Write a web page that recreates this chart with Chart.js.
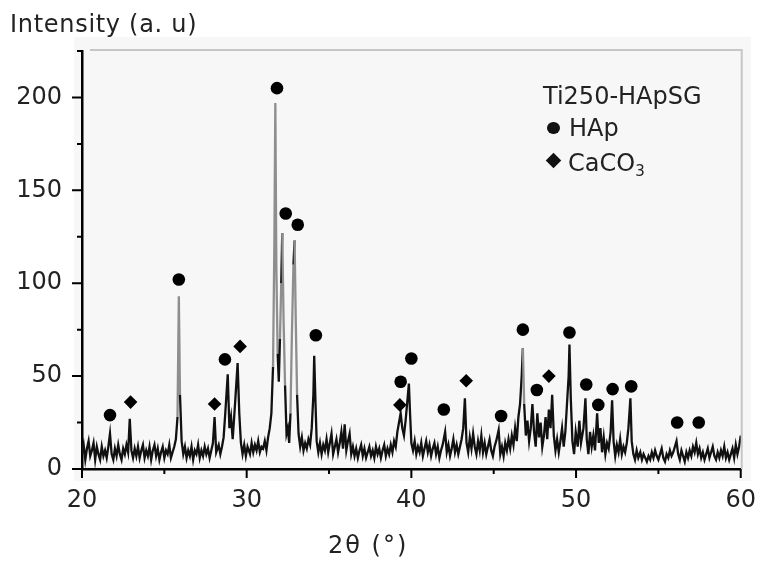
<!DOCTYPE html>
<html>
<head>
<meta charset="utf-8">
<script src="https://cdn.jsdelivr.net/npm/chart.js@4.4.1/dist/chart.umd.min.js"></script>
<style>
html,body{margin:0;padding:0;background:#fff;}
#wrap{position:relative;width:763px;height:561px;font-family:"DejaVu Sans",Verdana,sans-serif;color:#222;overflow:hidden;}
#c{position:absolute;left:0;top:0;}
.t{position:absolute;white-space:nowrap;font-size:24px;line-height:24px;}
.t sub{font-size:15px;line-height:0;vertical-align:baseline;position:relative;top:5px;}
.circ{position:absolute;width:13px;height:12.5px;border-radius:50%;background:#111;}
.dia{position:absolute;width:11px;height:11px;background:#111;transform:rotate(45deg);}
</style>
</head>
<body>
<div id="wrap">
<canvas id="c" width="763" height="561"></canvas>
<div class="t" style="left:10px;top:12px;letter-spacing:0.7px;">Intensity (a. u)</div>
<div class="t" style="left:328px;top:533px;letter-spacing:2px;">2θ (°)</div>
<div class="t" style="left:543px;top:84px;">Ti250-HApSG</div>
<div class="circ" style="left:546.5px;top:121.5px;"></div>
<div class="t" style="left:569px;top:115.5px;">HAp</div>
<div class="dia" style="left:547.5px;top:155px;"></div>
<div class="t" style="left:568px;top:150.5px;">CaCO<sub>3</sub></div>
</div>
<script>
// ---- data ----
const twoTheta = [
  20.0,20.1,20.2,20.3,20.4,20.5,20.6,20.7,20.8,20.9,
  21.0,21.1,21.2,21.3,21.4,21.5,21.6,21.7,21.8,21.9,
  22.0,22.1,22.2,22.3,22.4,22.5,22.6,22.7,22.8,22.9,
  23.0,23.1,23.2,23.3,23.4,23.5,23.6,23.7,23.8,23.9,
  24.0,24.1,24.2,24.3,24.4,24.5,24.6,24.7,24.8,24.9,
  25.0,25.1,25.2,25.3,25.4,25.5,25.6,25.7,25.8,25.88,25.95,
  26.05,26.15,26.25,26.35,26.45,26.55,26.65,26.75,26.85,26.95,
  27.05,27.15,27.25,27.35,27.45,27.55,27.65,27.75,27.85,27.95,
  28.05,28.15,28.3,28.4,28.5,28.6,28.7,28.85,28.95,
  29.05,29.15,29.3,29.45,29.55,29.65,29.75,29.85,29.95,
  30.05,30.2,30.3,30.4,30.5,30.6,30.7,30.8,30.9,
  31.0,31.1,31.2,31.3,31.4,31.5,31.6,31.68,31.74,31.8,31.88,31.95,
  32.02,32.1,32.16,32.24,32.33,32.42,32.5,32.58,32.66,32.74,32.84,32.91,32.98,
  33.06,33.15,33.25,33.35,33.45,33.55,33.65,33.75,33.85,33.95,
  34.05,34.1,34.18,34.25,34.35,34.45,34.55,34.65,34.75,34.85,34.95,
  35.05,35.15,35.25,35.35,35.45,35.55,35.65,35.75,35.85,35.95,
  36.05,36.15,36.25,36.35,36.45,36.55,36.65,36.75,36.85,36.95,
  37.05,37.15,37.25,37.35,37.45,37.55,37.65,37.75,37.85,37.95,
  38.05,38.15,38.25,38.35,38.45,38.55,38.65,38.75,38.85,38.95,
  39.05,39.15,39.25,39.35,39.45,39.55,39.65,39.75,39.85,39.92,
  40.0,40.1,40.2,40.3,40.4,40.5,40.6,40.7,40.8,40.9,
  41.0,41.1,41.2,41.3,41.4,41.5,41.6,41.7,41.8,41.9,
  42.05,42.15,42.25,42.35,42.45,42.55,42.65,42.75,42.85,42.95,
  43.05,43.15,43.25,43.35,43.45,43.55,43.65,43.75,43.85,43.95,
  44.05,44.15,44.25,44.35,44.45,44.55,44.65,44.75,44.85,44.95,
  45.05,45.15,45.3,45.4,45.5,45.6,45.7,45.8,45.9,
  46.0,46.1,46.2,46.3,46.4,46.5,46.6,46.7,46.77,46.85,46.95,
  47.05,47.15,47.25,47.35,47.45,47.55,47.65,47.75,47.85,47.95,
  48.05,48.15,48.25,48.35,48.45,48.55,48.65,48.75,48.85,48.95,
  49.05,49.15,49.25,49.35,49.45,49.55,49.6,49.68,49.78,49.88,49.98,
  50.1,50.2,50.3,50.45,50.57,50.65,50.75,50.85,50.95,
  51.05,51.15,51.28,51.38,51.48,51.58,51.68,51.78,51.88,51.98,
  52.1,52.19,52.28,52.38,52.48,52.58,52.68,52.78,52.88,52.98,
  53.08,53.18,53.3,53.38,53.48,53.58,53.68,53.78,53.9,
  54.0,54.1,54.2,54.3,54.4,54.5,54.6,54.7,54.8,54.9,
  55.0,55.1,55.2,55.3,55.4,55.5,55.6,55.7,55.8,55.9,
  56.0,56.1,56.2,56.3,56.4,56.5,56.6,56.7,56.8,56.9,
  57.0,57.1,57.2,57.3,57.4,57.5,57.6,57.7,57.8,57.9,
  58.0,58.1,58.2,58.3,58.4,58.5,58.6,58.7,58.8,58.9,
  59.0,59.1,59.2,59.3,59.4,59.5,59.6,59.7,59.8,59.9,
  60.0
];
const intensity = [
  8,13,5,11,15,7,10,14,5,12,
  8,5,12,7,10,6,12,19,8,5,
  11,7,13,8,5,11,8,13,9,27,
  10,6,11,7,12,6,10,13,6,10,
  7,12,5,10,13,7,11,5,9,12,
  6,10,8,13,6,9,12,16,28,93,40,
  15,8,12,6,10,7,12,5,10,8,
  13,6,10,7,12,8,11,6,10,14,
  28,9,13,8,12,17,30,51,22,
  28,16,36,57,30,14,8,13,7,
  12,8,14,9,13,10,15,9,12,
  11,15,10,17,22,30,55,120,197,110,62,47,
  70,100,127,80,45,19,22,14,30,70,110,123,80,
  40,19,12,17,10,14,11,16,13,22,
  40,61,35,15,9,14,8,13,10,16,9,
  14,19,8,12,16,9,14,20,11,24,
  10,15,19,8,12,7,11,6,10,13,
  7,11,6,9,12,7,10,6,12,8,
  11,6,10,13,7,11,8,13,9,15,
  12,20,25,30,22,18,26,36,46,30,
  14,10,15,8,12,9,14,7,11,15,
  9,13,7,11,14,8,12,6,10,13,
  20,9,13,7,11,16,9,13,8,12,
  16,22,38,14,9,17,11,19,12,8,
  15,10,18,9,14,8,12,16,10,7,
  12,15,21,8,12,7,14,10,16,
  11,18,13,22,15,28,35,50,65,35,18,
  26,15,22,35,20,12,30,17,25,12,
  18,28,16,32,22,40,18,10,16,9,
  15,22,12,20,35,50,67,38,15,8,20,
  12,26,14,22,38,16,8,20,12,
  18,10,30,14,22,9,17,8,14,11,
  20,37,15,7,13,9,16,8,12,9,
  14,22,38,15,8,5,10,6,9,
  5,8,6,4,7,5,9,6,10,7,
  5,8,11,6,4,8,6,10,7,9,
  12,15,8,5,10,7,4,9,6,10,
  7,12,9,14,8,11,6,9,5,8,
  11,6,9,12,7,5,9,6,10,7,
  12,6,9,5,8,11,6,13,8,12,
  18
];
// peak labels: HAp (circles) and CaCO3 (diamonds)
const hapAngle  = [21.7,25.88,28.68,31.84,32.37,33.1,34.2,39.35,40.0,41.97,45.45,46.77,47.62,49.6,50.62,51.35,52.22,53.35,56.14,57.45];
const hapHeight = [29,102,59,205,137.5,131.5,72,47,59.5,32,28.5,75,42.5,73.5,45.5,34.5,43,44.5,25,25];
const caco3Angle  = [22.95,28.05,29.6,39.3,43.33,48.35];
const caco3Height = [36,35,66,34.5,47.5,50];
// axes
const xMajorTicks = [20,30,40,50,60];
const xMinorTicks = [25,35,45,55];
const yMajorTicks = [0,50,100,150,200];
const yMinorTicks = [25,75,125,175,225];

const pattern = twoTheta.map((t,i)=>({x:t,y:intensity[i]}));
const hapPts = hapAngle.map((t,i)=>({x:t,y:hapHeight[i]}));
const cacoPts = caco3Angle.map((t,i)=>({x:t,y:caco3Height[i]}));

const FONT = "'DejaVu Sans', Verdana, sans-serif";

const framePlugin = {
  id:'frame',
  beforeDraw(chart){
    const {ctx, chartArea:a} = chart;
    ctx.save();
    ctx.fillStyle = '#f7f7f7';
    ctx.fillRect(a.left-8, a.top-14, a.right-a.left+18, a.bottom-a.top+26);
    ctx.strokeStyle = '#c6c6c6';
    ctx.lineWidth = 2;
    ctx.beginPath();
    ctx.moveTo(a.left+8, a.top-1);
    ctx.lineTo(a.right+1, a.top-1);
    ctx.lineTo(a.right+1, a.bottom);
    ctx.stroke();
    ctx.restore();
  },
  afterDraw(chart){
    const {ctx, chartArea:a, scales} = chart;
    const xs = scales.x, ys = scales.y;
    ctx.save();
    ctx.strokeStyle = '#000';
    ctx.lineWidth = 2;
    ctx.beginPath();
    yMajorTicks.forEach(v=>{const p=ys.getPixelForValue(v); ctx.moveTo(a.left-10,p); ctx.lineTo(a.left,p);});
    yMinorTicks.forEach(v=>{const p=ys.getPixelForValue(v); ctx.moveTo(a.left-5,p); ctx.lineTo(a.left,p);});
    xMajorTicks.forEach(v=>{const p=xs.getPixelForValue(v); ctx.moveTo(p,a.bottom); ctx.lineTo(p,a.bottom+9);});
    xMinorTicks.forEach(v=>{const p=xs.getPixelForValue(v); ctx.moveTo(p,a.bottom); ctx.lineTo(p,a.bottom+5);});
    ctx.stroke();
    ctx.restore();
  }
};

new Chart(document.getElementById('c'), {
  type:'scatter',
  data:{
    datasets:[
      {
        label:'Ti250-HApSG',
        data:pattern,
        showLine:true,
        borderColor:'#111',
        borderWidth:2.3,
        pointRadius:0,
        tension:0,
        order:2,
        segment:{
          borderColor: c => Math.abs(c.p1.y - c.p0.y) > 55 ? '#8e8e8e' : '#111'
        }
      },
      {
        label:'HAp',
        data:hapPts,
        pointStyle:'circle',
        pointRadius:6.3,
        backgroundColor:'#000',
        borderColor:'#000',
        borderWidth:0,
        showLine:false,
        order:1
      },
      {
        label:'CaCO3',
        data:cacoPts,
        pointStyle:'rectRot',
        pointRadius:6.8,
        backgroundColor:'#000',
        borderColor:'#000',
        borderWidth:0,
        showLine:false,
        order:1
      }
    ]
  },
  options:{
    responsive:false,
    animation:false,
    events:[],
    layout:{padding:{top:51,right:21,left:0,bottom:0}},
    plugins:{legend:{display:false},tooltip:{enabled:false},title:{display:false}},
    scales:{
      x:{
        type:'linear', min:20, max:60,
        afterFit: s => { s.height = 92; },
        afterBuildTicks: s => { s.ticks = xMajorTicks.map(v=>({value:v})); },
        ticks:{font:{family:FONT,size:24}, color:'#222', padding:7, maxRotation:0, autoSkip:false},
        grid:{display:true, drawOnChartArea:false, drawTicks:true, tickLength:10, color:'rgba(0,0,0,0)'},
        border:{display:true, color:'#000', width:2.5}
      },
      y:{
        type:'linear', min:0, max:225,
        afterFit: s => { s.width = 82; },
        afterBuildTicks: s => { s.ticks = yMajorTicks.map(v=>({value:v})); },
        ticks:{font:{family:FONT,size:24}, color:'#222', padding:10, autoSkip:false},
        grid:{display:true, drawOnChartArea:false, drawTicks:true, tickLength:10, color:'rgba(0,0,0,0)'},
        border:{display:true, color:'#000', width:2.5}
      }
    }
  },
  plugins:[framePlugin]
});
</script>
</body>
</html>
